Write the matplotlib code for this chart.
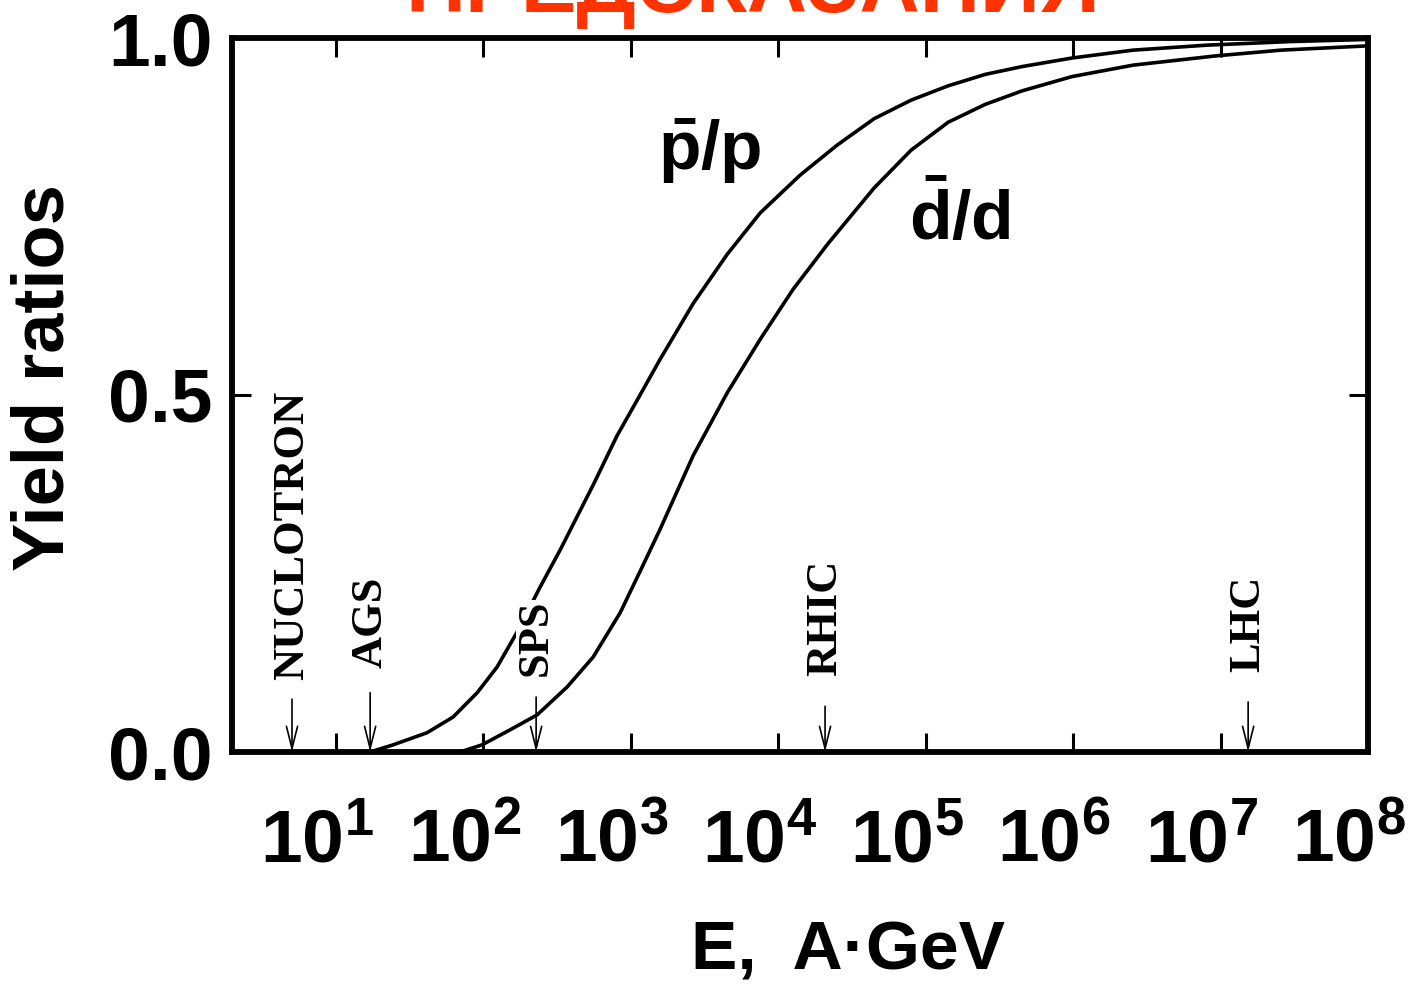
import numpy as np
import matplotlib.pyplot as plt
from matplotlib.ticker import FixedLocator, NullLocator
from matplotlib.transforms import ScaledTranslation

plt.rcParams['mathtext.fontset'] = 'custom'
plt.rcParams['mathtext.rm'] = 'Liberation Sans:bold'
plt.rcParams['mathtext.bf'] = 'Liberation Sans:bold'
plt.rcParams['mathtext.default'] = 'bf'

# curves: log10(E / A GeV) and yield ratio
pbar_log_e = np.array([1.231, 1.387, 1.617, 1.794, 1.957, 2.092, 2.228, 2.384, 2.520,
                       2.744, 2.906, 3.062, 3.198, 3.422, 3.653, 3.877, 4.148, 4.399,
                       4.650, 4.901, 5.152, 5.403, 5.654, 5.993, 6.407, 6.909, 7.472, 8.0])
pbar_ratio = np.array([0.0, 0.010, 0.027, 0.049, 0.083, 0.119, 0.168, 0.231, 0.283,
                       0.374, 0.443, 0.500, 0.550, 0.628, 0.697, 0.755, 0.808, 0.850,
                       0.887, 0.913, 0.933, 0.949, 0.960, 0.972, 0.983, 0.990, 0.995, 0.998])

dbar_log_e = np.array([1.841, 1.990, 2.180, 2.364, 2.567, 2.744, 2.927, 3.083, 3.198,
                       3.422, 3.653, 3.877, 4.100, 4.337, 4.650, 4.901, 5.152, 5.403,
                       5.654, 5.993, 6.407, 6.970, 7.411, 8.0])
dbar_ratio = np.array([0.0, 0.010, 0.031, 0.052, 0.091, 0.133, 0.195, 0.262, 0.312,
                       0.415, 0.503, 0.578, 0.648, 0.712, 0.790, 0.843, 0.882, 0.907,
                       0.926, 0.946, 0.962, 0.975, 0.983, 0.989])

# accelerators
machines = ['NUCLOTRON', 'AGS', 'SPS', 'RHIC', 'LHC']
machine_log_e = [0.701, 1.231, 2.357, 4.317, 7.187]
arrow_top = [0.074, 0.083, 0.077, 0.064, 0.070]
label_bottom = [0.101, 0.118, 0.106, 0.106, 0.112]

x_ticks = [1e1, 1e2, 1e3, 1e4, 1e5, 1e6, 1e7, 1e8]
x_tick_labels = ['$10^{%d}$' % k for k in range(1, 9)]
y_ticks = [0.0, 0.5, 1.0]
y_tick_labels = ['0.0', '0.5', '1.0']

fig = plt.figure(figsize=(14.18, 9.85), dpi=100)
ax = fig.add_axes([232 / 1418, 1 - 752 / 985, 1136 / 1418, 714 / 985])

ax.plot(10 ** pbar_log_e, pbar_ratio, color='black', lw=2.6, zorder=2)
ax.plot(10 ** dbar_log_e, dbar_ratio, color='black', lw=2.6, zorder=2)

ax.set_xscale('log')
ax.set_xlim(10 ** 0.294, 1e8)
ax.set_ylim(0, 1)

ax.xaxis.set_major_locator(FixedLocator(x_ticks))
ax.xaxis.set_minor_locator(NullLocator())
ax.set_xticklabels(x_tick_labels)
ax.set_yticks(y_ticks)
ax.set_yticklabels(y_tick_labels)

ax.tick_params(axis='both', direction='in', top=True, right=True, length=14, width=2.2,
               labelsize=54, colors='black')
ax.tick_params(axis='x', pad=38)
ax.tick_params(axis='y', pad=14)
for lab in ax.get_yticklabels():
    lab.set_fontfamily('Liberation Sans')
    lab.set_fontweight('bold')
# labels sit a bit left of their ticks
shift = ScaledTranslation(-19 / 100, 0, fig.dpi_scale_trans)
for lab in ax.get_xticklabels():
    lab.set_transform(lab.get_transform() + shift)

for s in ax.spines.values():
    s.set_linewidth(4.2)
    s.set_zorder(5)

for name, x, top, lb in zip(machines, machine_log_e, arrow_top, label_bottom):
    ax.annotate('', xy=(10 ** x, 0), xytext=(10 ** x, top),
                arrowprops=dict(arrowstyle='->,head_length=0.8,head_width=0.2',
                                mutation_scale=20, lw=1.2, color='black',
                                shrinkA=0, shrinkB=0), zorder=3)
    # the SPS label blanks out the curve behind it
    bbox = dict(facecolor='white', edgecolor='none', pad=0) if name == 'SPS' else None
    ax.text(10 ** x, lb, name, rotation=90, ha='center', va='bottom',
            fontsize=32, fontweight='bold', family='Liberation Serif', bbox=bbox, zorder=4)

ax.text(10 ** 3.537, 0.815, r'$\bar{p}/p$', ha='center', va='baseline', fontsize=50)
ax.text(10 ** 5.233, 0.717, r'$\bar{d}/d$', ha='center', va='baseline', fontsize=50)

fig.text(848 / 1418, 1 - 970 / 985, 'E,  A·GeV', ha='center', va='baseline',
         fontsize=50, fontweight='bold', family='Liberation Sans')
fig.text(45 / 1418, 1 - 378 / 985, 'Yield ratios', rotation=90, ha='center', va='center',
         fontsize=52, fontweight='bold', family='Liberation Sans')

fig.text(753 / 1418, 1 - 12 / 985, 'ПРЕДСКАЗАНИЯ', ha='center', va='baseline',
         fontsize=60, fontweight='bold', family='Liberation Sans', color='#FF3300')

fig.savefig('out.png', dpi=100)
